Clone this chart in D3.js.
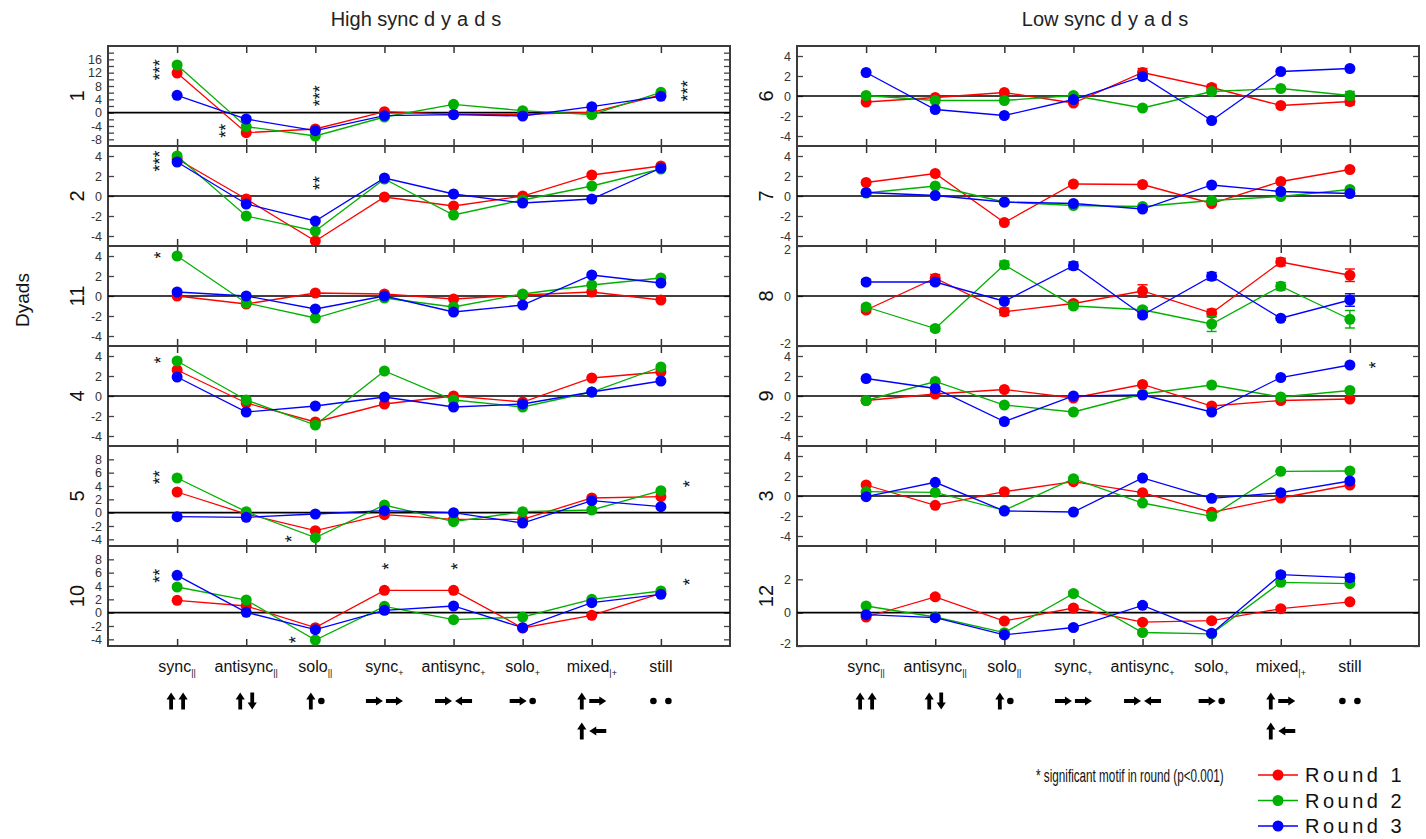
<!DOCTYPE html>
<html lang="en">
<head>
<meta charset="utf-8">
<style>
  body { margin: 0; background: #fff; }
  text { font-family: "Liberation Sans", Arial, sans-serif; }
</style>
</head>
<body>
<script src="https://d3js.org/d3.v7.min.js"></script>
<svg id="chart" width="1426" height="839"></svg>
<script>
// categories along x
var catNames = ["sync", "antisync", "solo", "sync", "antisync", "solo", "mixed", "still"];
var catSubs = ["||", "||", "||", "+", "+", "+", "|+", ""];
var motifs = [["up", "up"], ["up", "down"], ["up", "dot"], ["right", "right"],
              ["right", "left"], ["right", "dot"], ["up", "right"], ["dot", "dot"]];
var motifsExtra = [null, null, null, null, null, null, ["up", "left"], null];

// dyads per panel (top to bottom)
var highDyads = ["1", "2", "11", "4", "5", "10"];
var lowDyads = ["6", "7", "8", "9", "3", "12"];

// y range and ticks per dyad
var dyadDomain = { "1": [-10, 20], "2": [-5, 5], "11": [-5, 5], "4": [-5, 5], "5": [-5, 10], "10": [-5, 10],
                   "6": [-5, 5], "7": [-5, 5], "8": [-2, 2], "9": [-5, 5], "3": [-5, 5], "12": [-2, 4] };
var dyadLabels = { "1": [-8, -4, 0, 4, 8, 12, 16], "5": [-4, -2, 0, 2, 4, 6, 8], "10": [-4, -2, 0, 2, 4, 6, 8],
                   "8": [-2, 0, 2], "12": [-2, 0, 2] };
var defaultLabels = [-4, -2, 0, 2, 4];
var dyadMinor = { "1": [-8, -6, -4, -2, 0, 2, 4, 6, 8, 10, 12, 14, 16, 18] };

// values: rows follow dyad order, columns follow categories
var round1High = [
  [11.9, -6.0, -4.9, 0.3, -0.5, -0.5, 0.1, 5.3],
  [3.7, -0.3, -4.5, -0.1, -1.0, 0.0, 2.1, 3.0],
  [0.0, -0.8, 0.3, 0.2, -0.3, 0.1, 0.4, -0.4],
  [2.6, -0.7, -2.6, -0.8, 0.0, -0.6, 1.8, 2.4],
  [3.1, -0.2, -2.7, -0.3, -1.0, -1.0, 2.2, 2.4],
  [1.85, 1.0, -2.25, 3.35, 3.35, -2.3, -0.4, 2.9]];
var round2High = [
  [14.3, -4.2, -7.0, -1.3, 2.5, 0.6, -0.6, 6.1],
  [4.0, -2.0, -3.5, 1.7, -1.9, -0.4, 1.0, 2.7],
  [4.0, -0.7, -2.2, -0.2, -1.1, 0.2, 1.1, 1.8],
  [3.5, -0.4, -2.9, 2.5, -0.4, -1.1, 0.4, 2.9],
  [5.2, 0.15, -3.75, 1.15, -1.35, 0.15, 0.4, 3.3],
  [3.85, 1.9, -4.1, 0.95, -1.05, -0.65, 2.0, 3.25]];
var round3High = [
  [5.2, -1.9, -5.4, -0.9, -0.6, -1.0, 1.8, 4.9],
  [3.4, -0.8, -2.5, 1.8, 0.2, -0.7, -0.3, 2.8],
  [0.4, 0.0, -1.3, 0.0, -1.6, -0.9, 2.1, 1.3],
  [1.9, -1.6, -1.0, -0.1, -1.1, -0.8, 0.4, 1.5],
  [-0.6, -0.7, -0.2, 0.3, 0.0, -1.55, 1.8, 0.9],
  [5.6, 0.05, -2.55, 0.35, 1.0, -2.25, 1.5, 2.75]];

var round1Low = [
  [-0.6, -0.15, 0.35, -0.7, 2.35, 0.85, -0.95, -0.55],
  [1.35, 2.25, -2.65, 1.2, 1.15, -0.75, 1.45, 2.65],
  [-0.56, 0.71, -0.63, -0.3, 0.2, -0.68, 1.36, 0.83],
  [-0.45, 0.2, 0.65, -0.2, 1.15, -1.0, -0.45, -0.3],
  [1.1, -0.93, 0.43, 1.43, 0.33, -1.63, -0.2, 1.1],
  [-0.26, 0.95, -0.5, 0.28, -0.57, -0.48, 0.24, 0.65]];
var round2Low = [
  [0.05, -0.45, -0.45, 0.05, -1.2, 0.45, 0.75, 0.05],
  [0.3, 1.0, -0.6, -0.95, -1.05, -0.45, -0.05, 0.65],
  [-0.44, -1.3, 1.25, -0.4, -0.55, -1.12, 0.39, -0.93],
  [-0.45, 1.45, -0.9, -1.6, 0.2, 1.1, -0.1, 0.55],
  [0.43, 0.37, -1.43, 1.73, -0.7, -2.03, 2.47, 2.5],
  [0.4, -0.26, -1.2, 1.15, -1.19, -1.27, 1.82, 1.74]];
var round3Low = [
  [2.35, -1.35, -1.95, -0.35, 1.95, -2.45, 2.45, 2.75],
  [0.35, 0.05, -0.6, -0.75, -1.3, 1.1, 0.45, 0.25],
  [0.56, 0.56, -0.21, 1.21, -0.76, 0.79, -0.89, -0.16],
  [1.75, 0.75, -2.55, 0.0, 0.1, -1.6, 1.85, 3.1],
  [-0.07, 1.37, -1.5, -1.6, 1.8, -0.23, 0.33, 1.5],
  [-0.12, -0.3, -1.33, -0.89, 0.44, -1.23, 2.28, 2.1]];

// error bar half widths (low sync panel only)
var z8 = [0, 0, 0, 0, 0, 0, 0, 0];
var err1Low = [[0, 0, 0, 0, 0.4, 0.3, 0, 0.35], z8, [0.1, 0.15, 0.15, 0.1, 0.25, 0.15, 0.15, 0.25], z8,
               [0.1, 0, 0, 0, 0, 0, 0, 0], [0.1, 0.12, 0.1, 0.12, 0.1, 0.1, 0.08, 0.1]];
var err2Low = [[0, 0, 0, 0, 0, 0, 0, 0.4], z8, [0.1, 0.1, 0.15, 0.1, 0.1, 0.3, 0.15, 0.35], z8,
               [0, 0, 0, 0.15, 0, 0.1, 0.1, 0.1], [0.08, 0, 0.1, 0.12, 0.1, 0.1, 0.1, 0.1]];
var err3Low = [z8, z8, [0.1, 0.1, 0.1, 0.15, 0.1, 0.15, 0.08, 0.25], z8, z8,
               [0.1, 0.08, 0.1, 0.1, 0.1, 0.1, 0.15, 0.2]];

var roundNames = ["Round 1", "Round 2", "Round 3"];
var roundColors = ["#ff0000", "#00b000", "#0000ff"];

// significance marks: panel, row, category position, value, text
var stars = [
  [0, 0, -0.32, 12.9, "***"], [0, 0, 0.64, -5.4, "**"], [0, 0, 2, 5.1, "***"], [0, 0, 7.32, 6.6, "***"],
  [0, 1, -0.32, 3.5, "***"], [0, 1, 2, 1.3, "**"],
  [0, 2, -0.3, 4.1, "*"],
  [0, 3, -0.3, 3.6, "*"],
  [0, 4, -0.32, 5.3, "**"], [0, 4, 1.59, -3.9, "*"], [0, 4, 7.35, 4.35, "*"],
  [0, 5, -0.32, 5.55, "**"], [0, 5, 1.65, -4.05, "*"], [0, 5, 3, 6.95, "*"], [0, 5, 4, 6.95, "*"], [0, 5, 7.35, 4.65, "*"],
  [1, 3, 7.31, 3.1, "*"]];

var svg = d3.select("#chart");
svg.append("rect").attr("width", 1426).attr("height", 839).attr("fill", "#fff");

var panels = [
  { x0: 108, x1: 730, title: "High sync ", dyads: highDyads, rounds: [round1High, round2High, round3High], errs: null },
  { x0: 797, x1: 1419, title: "Low sync ", dyads: lowDyads, rounds: [round1Low, round2Low, round3Low], errs: [err1Low, err2Low, err3Low] }];

var top0 = 46, rowH = 100;
var fmt = function (d) { return String(d); };

panels.forEach(function (p, pi) {
  var x = d3.scaleLinear().domain([-1, 8]).range([p.x0, p.x1]);

  var t = svg.append("text")
    .attr("x", (p.x0 + p.x1) / 2).attr("y", 26)
    .attr("text-anchor", "middle")
    .style("font-size", "20px").style("fill", "#222")
    .text(p.title);
  t.append("tspan").style("letter-spacing", "6px").text("dyads");

  p.dyads.forEach(function (dy, ri) {
    var y0 = top0 + ri * rowH, y1 = y0 + rowH;
    var dom = dyadDomain[dy];
    var y = d3.scaleLinear().domain(dom).range([y1, y0]);
    var g = svg.append("g");

    var labs = dyadLabels[dy] || defaultLabels;
    var minor = dyadMinor[dy] || labs;

    // y axes, ticks inside
    g.append("g").attr("transform", "translate(" + p.x0 + ",0)")
      .call(d3.axisLeft(y).tickValues(minor).tickSize(-6).tickFormat(""))
      .call(function (a) { a.select(".domain").remove(); a.selectAll("line").attr("stroke", "#444").attr("stroke-width", 1.3); });
    g.append("g").attr("transform", "translate(" + p.x0 + ",0)")
      .call(d3.axisLeft(y).tickValues(labs).tickSize(0).tickPadding(6).tickFormat(fmt))
      .call(function (a) {
        a.select(".domain").remove();
        a.selectAll("text").style("font-size", "12.5px").style("font-family", "Liberation Sans Narrow, Liberation Sans, Arial").attr("fill", "#333")
          .attr("y", function (d) { return d === dom[1] ? 3 : d === dom[0] ? -3 : 0; });
      });
    g.append("g").attr("transform", "translate(" + p.x1 + ",0)")
      .call(d3.axisRight(y).tickValues(minor).tickSize(-6).tickFormat(""))
      .call(function (a) { a.select(".domain").remove(); a.selectAll("line").attr("stroke", "#444").attr("stroke-width", 1.3); });

    // x ticks on top and bottom of each row
    g.append("g").attr("transform", "translate(0," + y0 + ")")
      .call(d3.axisBottom(x).tickValues(d3.range(8)).tickSize(7).tickFormat(""))
      .call(function (a) { a.select(".domain").remove(); a.selectAll("line").attr("stroke", "#333").attr("stroke-width", 1.5); });
    g.append("g").attr("transform", "translate(0," + y1 + ")")
      .call(d3.axisTop(x).tickValues(d3.range(8)).tickSize(7).tickFormat(""))
      .call(function (a) { a.select(".domain").remove(); a.selectAll("line").attr("stroke", "#333").attr("stroke-width", 1.5); });

    // frame and zero line
    g.append("rect").attr("x", p.x0).attr("y", y0).attr("width", p.x1 - p.x0).attr("height", rowH)
      .attr("fill", "none").attr("stroke", "#3c3c3c").attr("stroke-width", 2);
    g.append("line").attr("x1", p.x0).attr("x2", p.x1).attr("y1", y(0)).attr("y2", y(0))
      .attr("stroke", "#000").attr("stroke-width", 1.6);

    // dyad label
    g.append("text")
      .attr("transform", "translate(" + (p.x0 - 31) + "," + ((y0 + y1) / 2) + ") rotate(-90)")
      .attr("text-anchor", "middle").attr("dy", "0.36em")
      .style("font-size", "20px").attr("fill", "#111")
      .text(dy);

    // series
    var line = d3.line().x(function (d, i) { return x(i); }).y(function (d) { return y(d); });
    p.rounds.forEach(function (r, k) {
      var vals = r[ri];
      var col = roundColors[k];
      g.append("path").datum(vals).attr("d", line)
        .attr("fill", "none").attr("stroke", col).attr("stroke-width", 1.3);
      if (p.errs) {
        var ev = p.errs[k][ri];
        vals.forEach(function (v, i) {
          if (!ev[i]) return;
          var e = g.append("g").attr("stroke", col).attr("stroke-width", 1.4);
          e.append("line").attr("x1", x(i)).attr("x2", x(i)).attr("y1", y(v - ev[i])).attr("y2", y(v + ev[i]));
          e.append("line").attr("x1", x(i) - 5).attr("x2", x(i) + 5).attr("y1", y(v - ev[i])).attr("y2", y(v - ev[i]));
          e.append("line").attr("x1", x(i) - 5).attr("x2", x(i) + 5).attr("y1", y(v + ev[i])).attr("y2", y(v + ev[i]));
        });
      }
      g.selectAll(null).data(vals).enter().append("circle")
        .attr("cx", function (d, i) { return x(i); })
        .attr("cy", function (d) { return y(d); })
        .attr("r", 5.5).attr("fill", col);
    });

    // stars
    stars.filter(function (s) { return s[0] === pi && s[1] === ri; }).forEach(function (s) {
      g.append("text")
        .attr("transform", "translate(" + x(s[2]) + "," + y(s[3]) + ") rotate(-90)")
        .attr("text-anchor", "middle").attr("dy", "0.6em")
        .style("font-size", "18px").attr("fill", "#111")
        .text(s[4]);
    });
  });

  // category labels
  catNames.forEach(function (c, i) {
    var tx = svg.append("text").attr("x", x(i)).attr("y", 672)
      .attr("text-anchor", "middle").style("font-size", "16px").attr("fill", "#111").text(c);
    if (catSubs[i]) tx.append("tspan").attr("dy", 4).style("font-size", "9px").attr("fill", "#111").text(catSubs[i]);
  });

  // motif glyphs
  motifs.forEach(function (m, i) {
    drawMotif(m, x(i), 701);
    if (motifsExtra[i]) drawMotif(motifsExtra[i], x(i), 731);
  });
});

function glyphWidth(k) { return k === "dot" ? 6 : (k === "up" || k === "down") ? 9 : 17; }

function drawMotif(m, cx, cy) {
  var gap = (m[0] === "dot" && m[1] === "dot") ? 9 : 3;
  var total = glyphWidth(m[0]) + gap + glyphWidth(m[1]);
  var left = cx - total / 2;
  m.forEach(function (k) {
    var w = glyphWidth(k);
    var gx = left + w / 2;
    left += w + gap;
    var g = svg.append("g").attr("transform", "translate(" + gx + "," + cy + ")").attr("fill", "#000");
    if (k === "dot") {
      g.append("circle").attr("r", 3.3);
    } else {
      var rot = { up: 0, right: 90, down: 180, left: -90 }[k];
      g.append("path").attr("transform", "rotate(" + rot + ")")
        .attr("d", "M-1.9,8.5 L-1.9,-1.5 L-4.6,-1.5 L0,-8.5 L4.6,-1.5 L1.9,-1.5 L1.9,8.5 Z");
    }
  });
}

// y title
svg.append("text").attr("transform", "translate(22,300) rotate(-90)")
  .attr("text-anchor", "middle").attr("dy", "0.35em")
  .style("font-size", "19px").attr("fill", "#111").text("Dyads");

// legend note, squeezed horizontally to fit like the original
var note = svg.append("text").attr("x", 0).attr("y", 0)
  .style("font-size", "19px").attr("fill", "#111")
  .text("* significant motif in round (p<0.001)");
var sx = 188 / note.node().getComputedTextLength();
note.attr("transform", "translate(1036,782) scale(" + sx + ",1)");

roundNames.forEach(function (n, k) {
  var ly = 775 + k * 25.5;
  svg.append("line").attr("x1", 1258).attr("x2", 1298).attr("y1", ly).attr("y2", ly)
    .attr("stroke", roundColors[k]).attr("stroke-width", 1.5);
  svg.append("circle").attr("cx", 1278).attr("cy", ly).attr("r", 5.5).attr("fill", roundColors[k]);
  svg.append("text").attr("x", 1305).attr("y", ly + 7)
    .style("font-size", "20px").style("letter-spacing", "3.5px").attr("fill", "#111").text(n);
});
</script>
</body>
</html>
